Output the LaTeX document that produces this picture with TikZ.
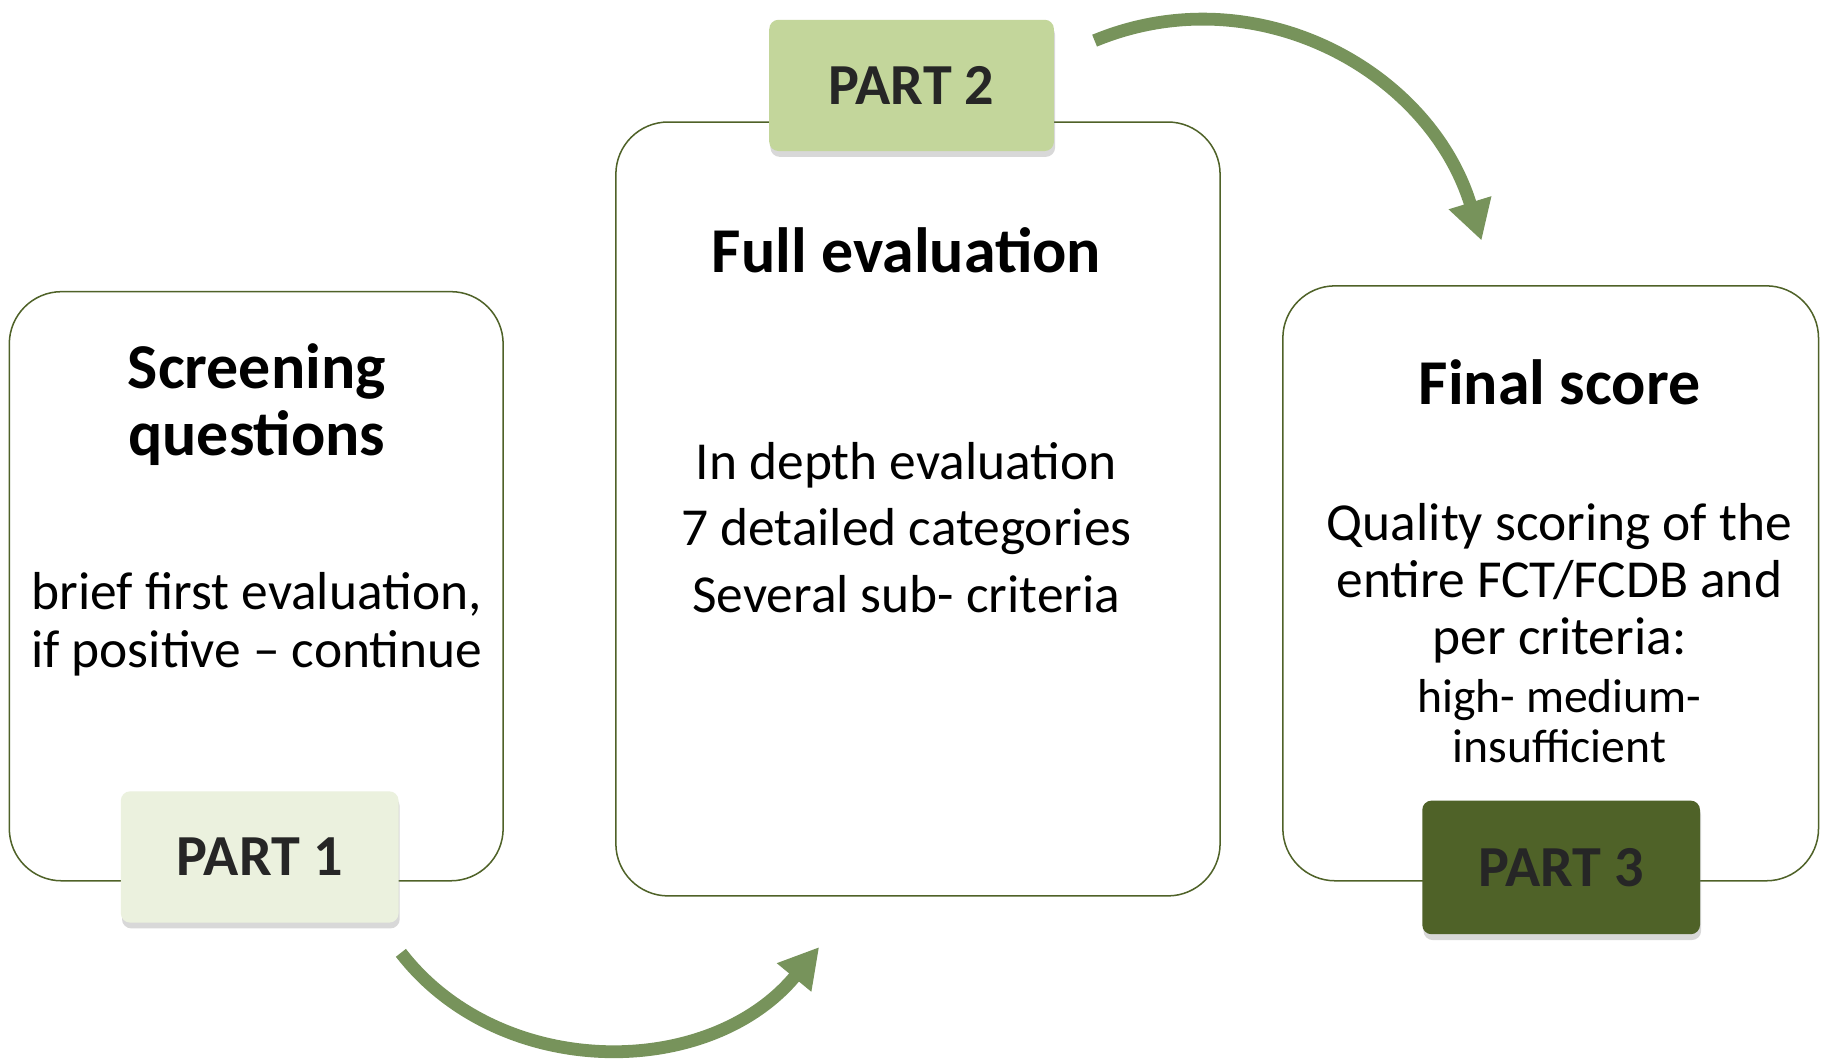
\documentclass[tikz,border=0pt]{standalone}
\usepackage{fontspec}
\setmainfont{Carlito}
\usepackage{tikz}
\usetikzlibrary{arrows.meta,shadows,calc,positioning}
\definecolor{olivedark}{HTML}{4F6228}
\definecolor{oliveline}{HTML}{77935B}
\definecolor{tabpale}{HTML}{EBF1DE}
\definecolor{tabmid}{HTML}{C3D69B}
\definecolor{tabtext}{HTML}{262626}

\begin{document}
\begin{tikzpicture}[x=1pt,y=-1pt,
  panel/.style={draw=olivedark,line width=1.3pt,rounded corners=45pt,inner sep=0pt},
  tab/.style={rounded corners=8pt,inner sep=0pt,text=tabtext,
    font=\bfseries\fontsize{50}{54}\selectfont,
    drop shadow={shadow xshift=1pt,shadow yshift=-5pt,opacity=0.3}},
  head/.style={align=center,font=\bfseries\fontsize{55}{58}\selectfont},
  body/.style={align=center,font=\fontsize{46}{50}\selectfont},
  flow/.style={draw=oliveline,line width=11pt,-{Triangle[length=34pt,width=36pt]}}]
\path[fill=white,use as bounding box] (0,0) rectangle (1568,912);

% the three panels
\node[panel,minimum width=425pt,minimum height=507pt] (Panel1) at (220.5,504.5) {};
\node[panel,minimum width=520pt,minimum height=666pt] (Panel2) at (790,438) {};
\node[panel,minimum width=461pt,minimum height=512pt] (Panel3) at (1334.5,502) {};

% tabs
\node[tab,fill=tabpale,minimum width=239pt,minimum height=113pt] (Tab1) at (223.5,737.5) {PART 1};
\node[tab,fill=tabmid,minimum width=245pt,minimum height=113pt] (Tab2) at (784.5,73.5) {PART 2};
\node[tab,fill=olivedark,minimum width=239pt,minimum height=115pt] (Tab3) at (1343.5,746.5) {PART 3};

% texts
\node[head] (Head1) at (221,348) {Screening\\questions};
\node[body] (Body1) at (221,537) {brief first evaluation,\\if positive -- continue};
\node[head] (Head2) at (780,215) {Full evaluation};
\node[body,font=\fontsize{46}{57}\selectfont] (Body2) at (780,454) {In depth evaluation\\7 detailed categories\\Several sub- criteria};
\node[head] (Head3) at (1342,329) {Final score};
\node[body,font=\fontsize{46}{49}\selectfont] (Body3) at (1342,502) {Quality scoring of the\\entire FCT/FCDB and\\per criteria:};
\node[body,font=\fontsize{41}{43}\selectfont] (Body4) at (1342,621) {high- medium-\\insufficient};

% arrows between the parts
\coordinate (FromOne) at (345,820);
\coordinate (ToTwo) at (705,815);
\coordinate (FromTwo) at (942,35);
\coordinate (ToThree) at (1275,207);
\draw[flow] (FromOne) .. controls (430,930) and (610,930) .. (ToTwo);
\draw[flow] (FromTwo) .. controls (1080,-22) and (1230,60) .. (ToThree);
\end{tikzpicture}
\end{document}
